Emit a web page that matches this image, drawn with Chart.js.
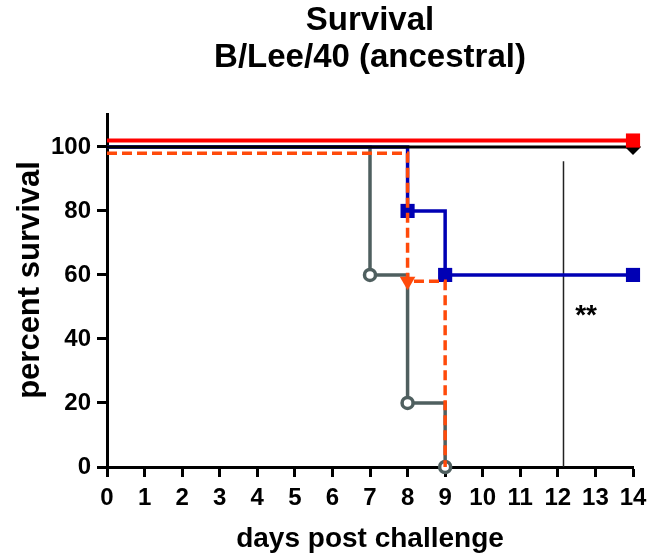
<!DOCTYPE html>
<html><head><meta charset="utf-8">
<script src="https://cdn.jsdelivr.net/npm/chart.js@4.4.1/dist/chart.umd.min.js"></script>
<style>html,body{margin:0;padding:0;background:#fff}#wrap{width:648px;height:556px}</style>
</head><body><div id="wrap"><canvas id="c" width="648" height="556"></canvas></div>
<script>
// ---- data ----
const titleLines = ['Survival', 'B/Lee/40 (ancestral)'];
const xAxisTitle = 'days post challenge';
const yAxisTitle = 'percent survival';
const xTickValues = [0,1,2,3,4,5,6,7,8,9,10,11,12,13,14];
const xTickLabels = ['0','1','2','3','4','5','6','7','8','9','10','11','12','13','14'];
const yTickValues = [0,20,40,60,80,100];
const yTickLabels = ['0','20','40','60','80','100'];

const redDays = [0, 14];
const redSurvival = [102, 102];
const blackDays = [0, 14];
const blackSurvival = [100, 100];
const blueDays = [0, 8, 9, 14];
const blueSurvival = [100, 80, 60, 60];
const grayDays = [0, 7, 8, 9];
const graySurvival = [100, 60, 20, 0];
const orangeDays = [0, 8, 9];
const orangeSurvival = [98, 58, 0];
const sigLineDays = [12.15, 12.15];
const sigLineValues = [0, 95.5];
const sigLabel = '**';
const sigLabelDay = 12.75;
const sigLabelValue = 47;

const pts = (xs, ys) => xs.map((x, i) => ({x: x, y: ys[i]}));
const FONT = "'Liberation Sans', Arial, Helvetica, sans-serif";
Chart.defaults.font.family = FONT;
Chart.defaults.color = '#000';

const extraText = {
  id: 'extraText',
  afterDatasetsDraw(chart) {
    const ctx = chart.ctx, xs = chart.scales.x, ys = chart.scales.y;
    ctx.save();
    ctx.fillStyle = '#000';
    ctx.font = 'bold 28px ' + FONT;
    ctx.textAlign = 'center';
    ctx.textBaseline = 'middle';
    ctx.fillText(sigLabel, xs.getPixelForValue(sigLabelDay), ys.getPixelForValue(sigLabelValue));
    ctx.restore();
  },
  afterDraw(chart) {
    const ctx = chart.ctx, a = chart.chartArea;
    ctx.save();
    ctx.fillStyle = '#000';
    ctx.font = 'bold 31px ' + FONT;
    ctx.textAlign = 'center';
    ctx.textBaseline = 'middle';
    ctx.translate(30, (a.top + a.bottom) / 2 - 11);
    ctx.rotate(-Math.PI / 2);
    ctx.fillText(yAxisTitle, 0, 0);
    ctx.restore();
  }
};

new Chart(document.getElementById('c'), {
  type: 'line',
  data: {
    datasets: [
      { label: 'red', data: pts(redDays, redSurvival), borderColor: '#ff0000', backgroundColor: '#ff0000',
        borderWidth: 4, stepped: true, pointStyle: 'rect', pointRadius: [0, 10], pointBorderWidth: 0, order: 0, clip: false },
      { label: 'orange', data: pts(orangeDays, orangeSurvival), borderColor: '#ff4a0a', backgroundColor: '#ff4a0a',
        borderWidth: 3.5, borderDash: [10, 5], stepped: true, pointStyle: 'triangle', rotation: 180,
        pointRadius: [0, 9, 0], pointBorderWidth: 0, order: 1, clip: false },
      { label: 'black', data: pts(blackDays, blackSurvival), borderColor: '#000', backgroundColor: '#000',
        borderWidth: 3, stepped: true, pointStyle: 'rectRot', pointRadius: [0, 8], pointBorderWidth: 0, order: 2, clip: false },
      { label: 'blue', data: pts(blueDays, blueSurvival), borderColor: '#0000b4', backgroundColor: '#0000b4',
        borderWidth: 3.5, stepped: true, pointStyle: 'rect', pointRadius: [0, 10, 10, 10], pointBorderWidth: 0, order: 3, clip: false },
      { label: 'gray', data: pts(grayDays, graySurvival), borderColor: '#4f5f5f', backgroundColor: '#ffffff',
        pointBorderColor: '#4f5f5f', borderWidth: 3.5, stepped: true, pointStyle: 'circle', pointRadius: [0, 5.5, 5.5, 5.5],
        pointBorderWidth: 3.5, order: 4, clip: false },
      { label: 'sig', data: pts(sigLineDays, sigLineValues), borderColor: '#222', borderWidth: 1.5,
        pointRadius: 0, order: 5, clip: false }
    ]
  },
  options: {
    responsive: false,
    animation: false,
    devicePixelRatio: 1,
    layout: { padding: { left: 0, right: 15, top: 0, bottom: 0 } },
    plugins: {
      legend: { display: false },
      tooltip: { enabled: false },
      title: {
        display: true, text: titleLines, fullSize: false, color: '#000',
        font: { size: 33, weight: 'bold', lineHeight: 1.12 },
        padding: { top: 2, bottom: 39 }
      }
    },
    scales: {
      x: {
        type: 'linear', min: 0, max: 14,
        afterBuildTicks: s => { s.ticks = xTickValues.map(v => ({ value: v })); },
        afterFit: s => { s.height = 89; s.paddingLeft = 0; s.paddingRight = 0; },
        ticks: { callback: (v, i) => xTickLabels[i], font: { size: 24, weight: 'bold' }, padding: 7, maxRotation: 0, autoSkip: false },
        grid: { drawOnChartArea: false, drawTicks: true, tickLength: 10, tickWidth: 3, tickColor: '#000', color: '#000' },
        border: { display: true, color: '#000', width: 3 },
        title: { display: true, text: xAxisTitle, font: { size: 28, weight: 'bold', lineHeight: 1.2 }, padding: { top: 0, bottom: 0 } }
      },
      y: {
        type: 'linear', min: 0, max: 110,
        afterBuildTicks: s => { s.ticks = yTickValues.map(v => ({ value: v })); },
        afterFit: s => { s.width = 107; },
        ticks: { callback: (v, i) => yTickLabels[i], font: { size: 24, weight: 'bold' }, padding: 6 },
        grid: { drawOnChartArea: false, drawTicks: true, tickLength: 10, tickWidth: 3, tickColor: '#000', color: '#000' },
        border: { display: true, color: '#000', width: 3 }
      }
    }
  },
  plugins: [extraText]
});
</script>
</body></html>
